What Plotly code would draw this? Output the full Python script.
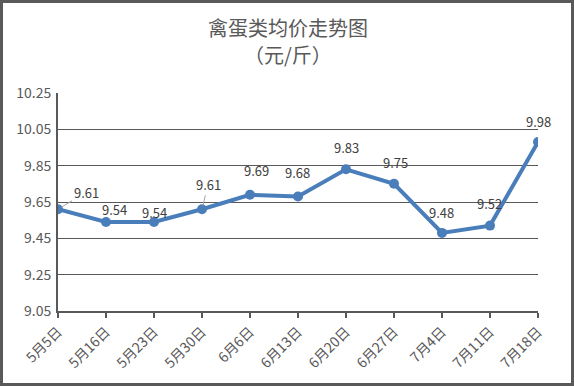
import plotly.graph_objects as go

dates = ["5月5日", "5月16日", "5月23日", "5月30日", "6月6日", "6月13日",
         "6月20日", "6月27日", "7月4日", "7月11日", "7月18日"]
prices = [9.61, 9.54, 9.54, 9.61, 9.69, 9.68, 9.83, 9.75, 9.48, 9.52, 9.98]
y_ticks = [9.05, 9.25, 9.45, 9.65, 9.85, 10.05, 10.25]
title_lines = ["禽蛋类均价走势图", "（元/斤）"]

# label offsets in pixels (dx, dy up) and whether a leader line is drawn
label_offsets = [(28, 17, True), (8, 12, False), (0, 9, False), (6, 25, True),
                 (6, 24, False), (-1, 24, False), (0, 22, False), (1, 21, False),
                 (-1, 20, False), (-1, 22, False), (0, 21, False)]

BLUE = "#4A7EBB"
GRAY = "#595959"
FONT = "Noto Sans CJK SC"

# plot area geometry in pixels
L, R, T, B = 58, 538, 93, 311
PW, PH = R - L, B - T

fig = go.Figure()
fig.add_trace(go.Scatter(
    x=dates, y=prices, mode="lines+markers",
    line=dict(color=BLUE, width=4),
    marker=dict(color=BLUE, size=10),
    hoverinfo="x+y", showlegend=False,
))

annotations = []
for d, p, (dx, dy, leader) in zip(dates, prices, label_offsets):
    if leader:
        annotations.append(dict(
            x=d, y=p, xref="x", yref="y", text=f"{p:.2f}",
            showarrow=True, arrowhead=0, arrowwidth=1, arrowcolor="#A6A6A6",
            ax=dx, ay=-dy, standoff=4,
            font=dict(family=FONT, size=13, color="#404040"),
        ))
    else:
        annotations.append(dict(
            x=d, y=p, xref="x", yref="y", text=f"{p:.2f}",
            showarrow=False, xshift=dx, yshift=dy,
            font=dict(family=FONT, size=13, color="#404040"),
        ))

for txt, cy in zip(title_lines, [27, 55]):
    annotations.append(dict(
        x=(288 - L) / PW, y=(B - cy) / PH, xref="paper", yref="paper",
        text=txt, showarrow=False, xanchor="center", yanchor="middle",
        font=dict(family=FONT, size=20, color=GRAY),
    ))

fig.update_layout(
    width=574, height=386,
    margin=dict(l=L, r=574 - R, t=T, b=386 - B),
    paper_bgcolor="white", plot_bgcolor="white",
    annotations=annotations,
    shapes=[dict(
        type="rect", xref="paper", yref="paper",
        x0=(1.5 - L) / PW, x1=(572.5 - L) / PW,
        y0=(B - 384.5) / PH, y1=(B - 1.5) / PH,
        line=dict(color=GRAY, width=3), layer="below",
    )],
    xaxis=dict(
        type="category", range=[0, len(dates) - 1],
        tickangle=-45, ticks="outside", ticklen=5, tickcolor=GRAY, tickwidth=2,
        showline=True, linecolor=GRAY, linewidth=2,
        showgrid=False, zeroline=False,
        tickfont=dict(family=FONT, size=14, color=GRAY),
    ),
    yaxis=dict(
        range=[9.05, 10.25], tickvals=y_ticks,
        ticktext=[f"{v:.2f}" for v in y_ticks],
        showline=True, linecolor=GRAY, linewidth=2,
        showgrid=True, gridcolor=GRAY, gridwidth=1,
        zeroline=False, ticks="", ticklabelstandoff=2,
        tickfont=dict(family=FONT, size=14, color=GRAY),
    ),
)

fig.write_html("out.html", config={"displayModeBar": False},
               post_script="document.body.style.margin='0';")
